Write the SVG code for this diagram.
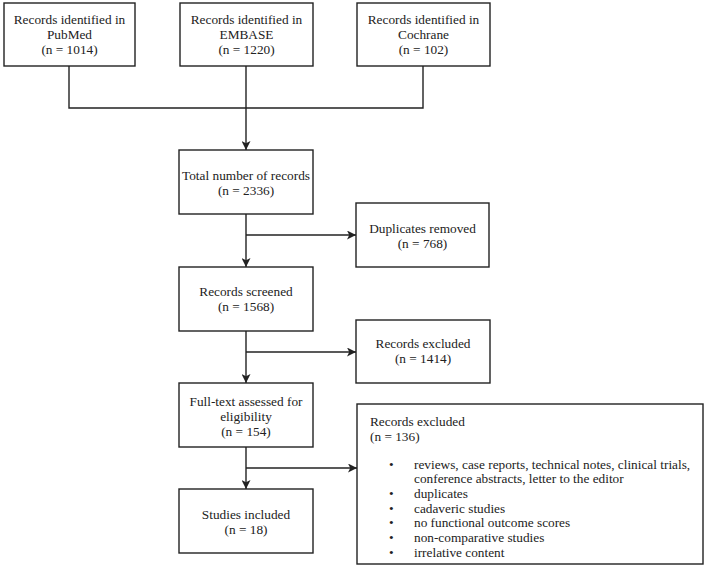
<svg xmlns="http://www.w3.org/2000/svg" width="705" height="577" viewBox="0 0 705 577">
<style>
.box{fill:#fff;stroke:#222;stroke-width:1.4}
.t{font-family:"Liberation Serif","Times New Roman",serif;font-size:13.3px;fill:#222;text-anchor:middle}
.l{text-anchor:start}
.c{fill:none;stroke:#222;stroke-width:1.4}
</style>
<defs>
<marker id="ah" viewBox="0 0 10 10" refX="10" refY="5" markerWidth="9" markerHeight="9" markerUnits="userSpaceOnUse" orient="auto">
<path d="M0,0 L10,5 L0,10 L2.5,5 Z" fill="#222"/>
</marker>
</defs>
<rect width="705" height="577" fill="#fff"/>
<g id="connectors">
<path class="c" d="M69,66 V108 H423 V66"/>
<path class="c" d="M246,66 V150" marker-end="url(#ah)"/>
<path class="c" d="M246,214 V267" marker-end="url(#ah)"/>
<path class="c" d="M246,235 H356" marker-end="url(#ah)"/>
<path class="c" d="M246,331 V383" marker-end="url(#ah)"/>
<path class="c" d="M246,352 H356" marker-end="url(#ah)"/>
<path class="c" d="M246,447 V489" marker-end="url(#ah)"/>
<path class="c" d="M246,468 H357" marker-end="url(#ah)"/>
</g>
<g id="pubmed">
<rect class="box" x="4" y="3" width="131" height="63"/>
<text class="t" x="69.5" y="24">Records identified in</text>
<text class="t" x="69.5" y="39">PubMed</text>
<text class="t" x="69.5" y="54">(n = 1014)</text>
</g>
<g id="embase">
<rect class="box" x="180" y="3" width="133" height="63"/>
<text class="t" x="246.5" y="24">Records identified in</text>
<text class="t" x="246.5" y="39">EMBASE</text>
<text class="t" x="246.5" y="54">(n = 1220)</text>
</g>
<g id="cochrane">
<rect class="box" x="357" y="3" width="133" height="63"/>
<text class="t" x="423.5" y="24">Records identified in</text>
<text class="t" x="423.5" y="39">Cochrane</text>
<text class="t" x="423.5" y="54">(n = 102)</text>
</g>
<g id="total">
<rect class="box" x="179" y="150" width="134" height="64"/>
<text class="t" x="246" y="180">Total number of records</text>
<text class="t" x="246" y="195">(n = 2336)</text>
</g>
<g id="duplicates">
<rect class="box" x="356" y="203" width="133" height="64"/>
<text class="t" x="422.5" y="233">Duplicates removed</text>
<text class="t" x="422.5" y="248">(n = 768)</text>
</g>
<g id="screened">
<rect class="box" x="179" y="267" width="134" height="64"/>
<text class="t" x="246" y="296">Records screened</text>
<text class="t" x="246" y="311">(n = 1568)</text>
</g>
<g id="excluded1">
<rect class="box" x="356" y="320" width="134" height="63"/>
<text class="t" x="423" y="348">Records excluded</text>
<text class="t" x="423" y="363">(n = 1414)</text>
</g>
<g id="fulltext">
<rect class="box" x="179" y="383" width="134" height="64"/>
<text class="t" x="246" y="406">Full-text assessed for</text>
<text class="t" x="246" y="421">eligibility</text>
<text class="t" x="246" y="436">(n = 154)</text>
</g>
<g id="included">
<rect class="box" x="179" y="489" width="134" height="64"/>
<text class="t" x="246" y="519">Studies included</text>
<text class="t" x="246" y="534">(n = 18)</text>
</g>
<g id="excluded2">
<rect class="box" x="357" y="404" width="346" height="160"/>
<text class="t l" x="370" y="426">Records excluded</text>
<text class="t l" x="370" y="441">(n = 136)</text>
<text class="t l" x="389" y="469">•</text>
<text class="t l" x="414" y="469">reviews, case reports, technical notes, clinical trials,</text>
<text class="t l" x="414" y="483">conference abstracts, letter to the editor</text>
<text class="t l" x="389" y="498">•</text>
<text class="t l" x="414" y="498">duplicates</text>
<text class="t l" x="389" y="513">•</text>
<text class="t l" x="414" y="513">cadaveric studies</text>
<text class="t l" x="389" y="527">•</text>
<text class="t l" x="414" y="527">no functional outcome scores</text>
<text class="t l" x="389" y="542">•</text>
<text class="t l" x="414" y="542">non-comparative studies</text>
<text class="t l" x="389" y="557">•</text>
<text class="t l" x="414" y="557">irrelative content</text>
</g>
</svg>
